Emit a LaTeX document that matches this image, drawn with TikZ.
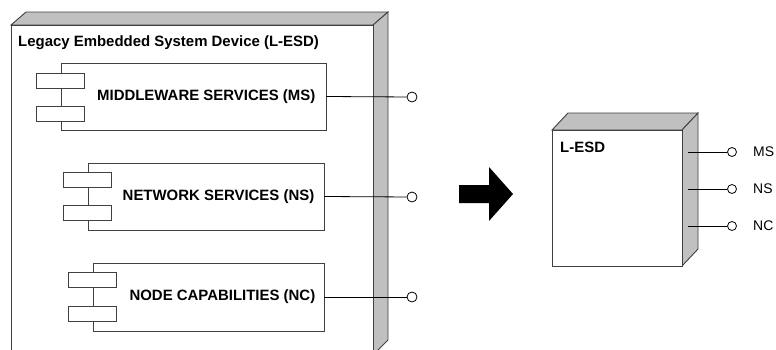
\documentclass[tikz,border=0pt]{standalone}
\usepackage{fontspec}
\setmainfont{Liberation Sans}
\usepackage{tikz}
\usetikzlibrary{calc,positioning}
\definecolor{edgec}{HTML}{404040}
\definecolor{sidec}{HTML}{C0C0C0}
\tikzset{
  face/.style={draw=edgec,line width=0.9bp,fill=white},
  side/.style={draw=edgec,line width=0.9bp,fill=sidec},
  comp/.style={draw=edgec,line width=0.9bp,fill=white,inner sep=0pt},
  tab/.style={draw=edgec,line width=0.9bp,fill=white,minimum width=48bp,minimum height=15bp,inner sep=0pt},
  port/.style={circle,draw=black,line width=0.8bp,fill=white,minimum size=10bp,inner sep=0pt},
  sport/.style={port,minimum size=9bp},
  wire/.style={draw=black,line width=0.8bp},
  ctxt/.style={font=\bfseries\fontsize{15}{18}\selectfont,inner sep=0pt},
  ptxt/.style={font=\fontsize{14}{17}\selectfont,inner sep=0pt}
}
\begin{document}
\begin{tikzpicture}[x=1bp,y=-1bp]
\clip (0,0) rectangle (776,349);
% big device
\draw[side] (11,25) -- (26,12) -- (388,12) -- (373,25) -- cycle;
\draw[side] (373,25) -- (388,12) -- (388,340) -- (373,355) -- cycle;
\draw[face] (11,25) rectangle (373,355);
\node[ctxt,anchor=west] (dev) at (18,43) {Legacy Embedded System Device (L-ESD)};
% components
\node[comp,minimum width=265bp,minimum height=67bp] (ms) at (193.5,96.5) {};
\node[tab] (ms1) at (ms.west |- 0,80.5) {}; \node[tab] (ms2) at (ms.west |- 0,114) {};
\node[ctxt,anchor=east] (mst) at ([xshift=-11bp]ms.east) {MIDDLEWARE SERVICES (MS)};
\node[comp,minimum width=236bp,minimum height=67bp] (ns) at (206,196.5) {};
\node[tab] (ns1) at (ns.west |- 0,180) {}; \node[tab] (ns2) at (ns.west |- 0,213) {};
\node[ctxt,anchor=east] (nst) at ([xshift=-10bp]ns.east) {NETWORK SERVICES (NS)};
\node[comp,minimum width=231bp,minimum height=68bp] (nc) at (208.5,297) {};
\node[tab] (nc1) at (nc.west |- 0,280) {}; \node[tab] (nc2) at (nc.west |- 0,314) {};
\node[ctxt,anchor=east] (nct) at ([xshift=-9bp]nc.east) {NODE CAPABILITIES (NC)};
% ports
\node[port] (msp) at (412,97) {}; \draw[wire] (ms.east) -- (msp);
\node[port] (nsp) at (412,197) {}; \draw[wire] (ns.east) -- (nsp);
\node[port] (ncp) at (412,297) {}; \draw[wire] (nc.east) -- (ncp);
% block arrow
\fill[black] (459,185) -- (489,185) -- (489,167) -- (513,194) -- (489,221) -- (489,203) -- (459,203) -- cycle;
% small device
\draw[side] (552,130) -- (568,113) -- (698,113) -- (682,130) -- cycle;
\draw[side] (682,130) -- (698,113) -- (698,249) -- (682,266) -- cycle;
\draw[face] (552,130) rectangle (682,266);
\node[ctxt,anchor=west] (lesd) at (560,147) {L-ESD};
\coordinate (ms0) at (688,152); \coordinate (ns0) at (688,189); \coordinate (nc0) at (688,226);
\node[sport] (msq) at (732,152) {}; \draw[wire] (ms0) -- (msq);
\node[sport] (nsq) at (732,189) {}; \draw[wire] (ns0) -- (nsq);
\node[sport] (ncq) at (732,226) {}; \draw[wire] (nc0) -- (ncq);
\node[ptxt,anchor=west] (msl) at (753,152) {MS};
\node[ptxt,anchor=west] (nsl) at (753,189) {NS};
\node[ptxt,anchor=west] (ncl) at (753,226) {NC};
\end{tikzpicture}
\end{document}
